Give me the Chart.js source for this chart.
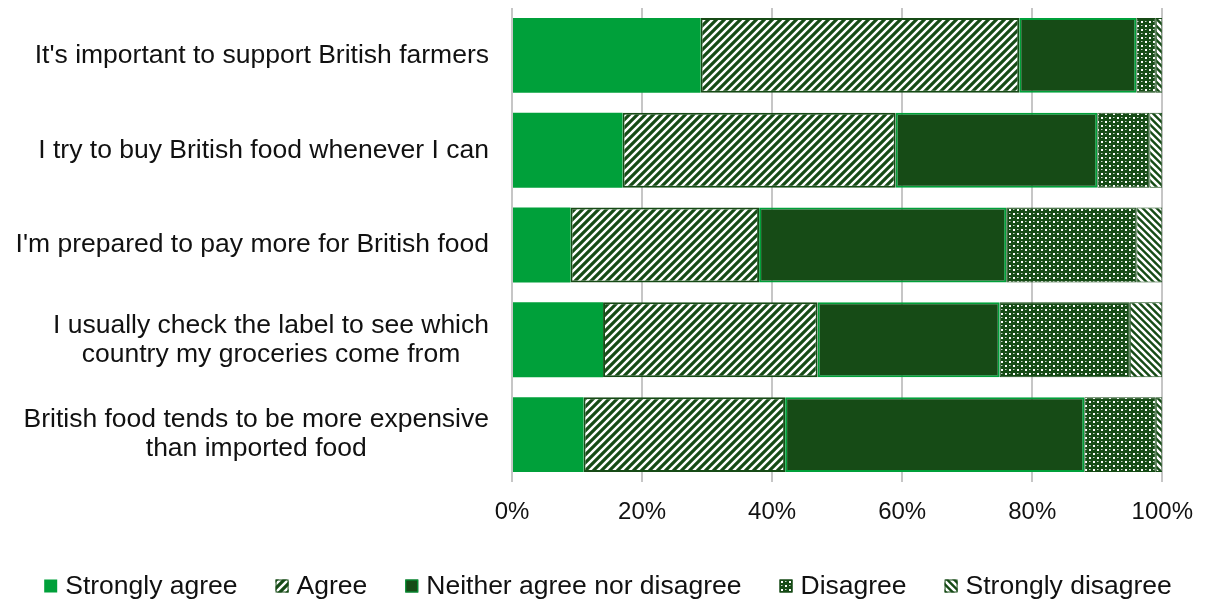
<!DOCTYPE html>
<html>
<head>
<meta charset="utf-8">
<script src="https://cdn.jsdelivr.net/npm/chart.js@4/dist/chart.umd.min.js"></script>
<style>
    body { margin: 0; background: #fff; }
    canvas { display: block; }
</style>
</head>
<body>
<canvas id="attitudesChart" width="1209" height="600"></canvas>
<script>
// Chart data
const categories = [
    ["It's important to support British farmers"],
    ['I try to buy British food whenever I can'],
    ["I'm prepared to pay more for British food"],
    ['I usually check the label to see which', 'country my groceries come from'],
    ['British food tends to be more expensive', 'than imported food']
];
const stronglyAgree = [29, 17, 9, 14, 11];
const agree = [49, 42, 29, 33, 31];
const neither = [18, 31, 38, 28, 46];
const disagree = [3, 8, 20, 20, 11];
const stronglyDisagree = [1, 2, 4, 5, 1];
const xTicks = [0, 20, 40, 60, 80, 100];

const BRIGHT = '#00a03a';
const DARK = '#164b16';
const FONT = "'Liberation Sans', Arial, sans-serif";

// hatch / dot fills
function makeTile(size, draw) {
    const c = document.createElement('canvas');
    c.width = size;
    c.height = size;
    draw(c.getContext('2d'), size);
    return document.createElement('canvas').getContext('2d').createPattern(c, 'repeat');
}

const agreeFill = makeTile(8, (g, s) => {
    g.fillStyle = '#fff';
    g.fillRect(0, 0, s, s);
    g.strokeStyle = DARK;
    g.lineWidth = 3.2;
    g.beginPath();
    g.moveTo(0, s); g.lineTo(s, 0);
    g.moveTo(-2, 2); g.lineTo(2, -2);
    g.moveTo(s - 2, s + 2); g.lineTo(s + 2, s - 2);
    g.stroke();
});

const disagreeFill = makeTile(8, (g, s) => {
    g.fillStyle = DARK;
    g.fillRect(0, 0, s, s);
    g.fillStyle = '#fff';
    g.fillRect(1, 1, 2, 2);
    g.fillRect(5, 5, 2, 2);
    g.fillStyle = 'rgba(255,255,255,0.75)';
    g.fillRect(5, 1, 1.5, 1);
    g.fillRect(1, 5, 1.5, 1);
});

const sdFill = makeTile(7, (g, s) => {
    g.fillStyle = DARK;
    g.fillRect(0, 0, s, s);
    g.strokeStyle = '#fff';
    g.lineWidth = 2.6;
    g.beginPath();
    g.moveTo(0, 0); g.lineTo(s, s);
    g.moveTo(-2, s - 2); g.lineTo(2, s + 2);
    g.moveTo(s - 2, -2); g.lineTo(s + 2, 2);
    g.stroke();
});

// category labels: block right-aligned, lines centred inside the block
const categoryLabels = {
    id: 'categoryLabels',
    afterDraw(chart) {
        const ctx = chart.ctx;
        const yScale = chart.scales.y;
        const right = chart.chartArea.left - 23;
        const lineH = 29;
        ctx.save();
        ctx.font = '26.5px ' + FONT;
        ctx.fillStyle = '#111';
        ctx.textAlign = 'center';
        ctx.textBaseline = 'middle';
        categories.forEach((lines, i) => {
            const cy = yScale.getPixelForTick(i);
            const w = Math.max(...lines.map(l => ctx.measureText(l).width));
            const cx = right - w / 2;
            const top = cy - (lines.length - 1) * lineH / 2;
            lines.forEach((l, j) => ctx.fillText(l, cx, top + j * lineH));
        });
        ctx.restore();
    }
};

// one-row legend along the bottom (built-in one wraps at this size)
const bottomLegend = {
    id: 'bottomLegend',
    afterDraw(chart) {
        const ctx = chart.ctx;
        const box = 13, gap = 8, spacing = 38, cy = 586;
        ctx.save();
        ctx.font = '26.5px ' + FONT;
        ctx.textBaseline = 'middle';
        const sets = chart.data.datasets;
        const widths = sets.map(ds => box + gap + ctx.measureText(ds.label).width);
        const total = widths.reduce((a, b) => a + b, 0) + spacing * (sets.length - 1);
        let x = 608 - total / 2;
        sets.forEach((ds, i) => {
            ctx.fillStyle = ds.backgroundColor;
            ctx.fillRect(x, cy - box / 2, box, box);
            if (ds.borderWidth) {
                ctx.strokeStyle = ds.borderColor;
                ctx.lineWidth = 1;
                ctx.strokeRect(x + 0.5, cy - box / 2 + 0.5, box - 1, box - 1);
            }
            ctx.fillStyle = '#111';
            ctx.fillText(ds.label, x + box + gap, cy + 1);
            x += widths[i] + spacing;
        });
        ctx.restore();
    }
};

function series(label, data, bg, border, bw) {
    return {
        label: label,
        data: data,
        backgroundColor: bg,
        borderColor: border,
        borderWidth: bw,
        borderSkipped: false,
        barPercentage: 0.79,
        categoryPercentage: 1
    };
}

new Chart(document.getElementById('attitudesChart'), {
    type: 'bar',
    data: {
        labels: categories,
        datasets: [
            series('Strongly agree', stronglyAgree, BRIGHT, BRIGHT, 0),
            series('Agree', agree, agreeFill, DARK, 2),
            series('Neither agree nor disagree', neither, DARK, BRIGHT, 2),
            series('Disagree', disagree, disagreeFill, DARK, 1),
            series('Strongly disagree', stronglyDisagree, sdFill, DARK, 1)
        ]
    },
    options: {
        indexAxis: 'y',
        responsive: false,
        devicePixelRatio: 1,
        animation: false,
        layout: { padding: { left: 0, right: 41, top: 8, bottom: 72 } },
        scales: {
            x: {
                stacked: true,
                min: 0,
                max: 100,
                afterBuildTicks: scale => {
                    scale.ticks = xTicks.map(v => ({ value: v }));
                },
                afterFit: scale => { scale.height = 46; },
                border: { display: false },
                grid: {
                    color: '#c6c6c6',
                    lineWidth: 2,
                    drawTicks: false
                },
                ticks: {
                    padding: 16,
                    color: '#111',
                    font: { family: FONT, size: 24 },
                    callback: v => v + '%'
                }
            },
            y: {
                stacked: true,
                afterFit: scale => { scale.width = 512; },
                border: { display: false },
                grid: { display: false },
                ticks: { display: false }
            }
        },
        plugins: {
            legend: { display: false },
            tooltip: { enabled: false }
        }
    },
    plugins: [categoryLabels, bottomLegend]
});
</script>
</body>
</html>
